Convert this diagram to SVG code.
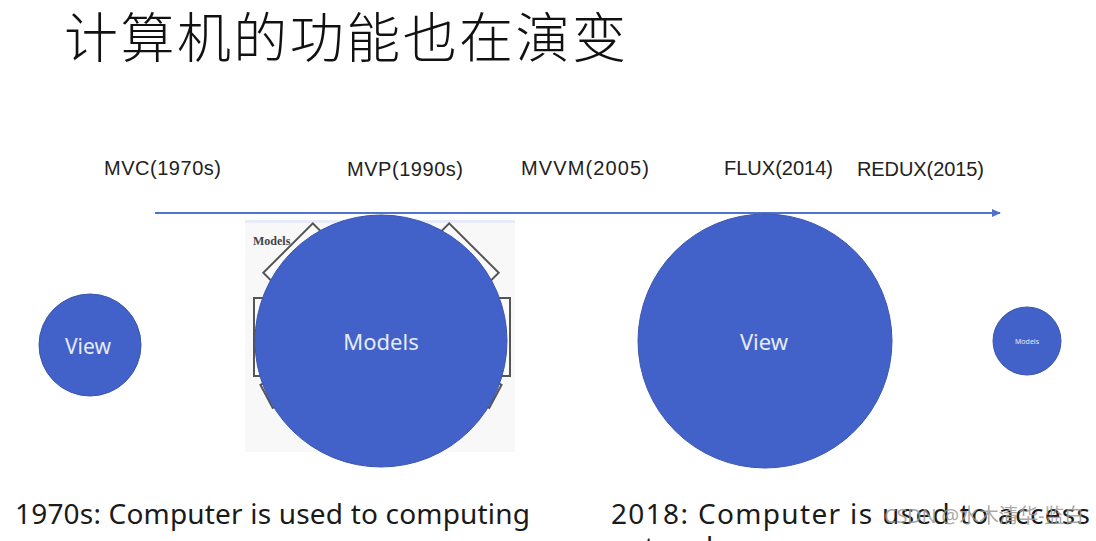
<svg xmlns="http://www.w3.org/2000/svg" width="1096" height="541" viewBox="0 0 1096 541">
<defs>
<style>
.lbl{font-family:"Liberation Sans","Noto Sans",sans-serif;font-size:20px;fill:#222}
.node{fill:#4262c9;stroke:#3a55ad;stroke-width:1}
.ntxt{font-family:"Noto Sans","Liberation Sans",sans-serif;fill:#e6ebf8;text-anchor:middle}
.big{font-family:"Noto Sans","Liberation Sans",sans-serif;font-size:28px;fill:#1a1a1a}
.box{fill:#fbfbfb;stroke:#555;stroke-width:2}
</style>
<marker id="ah" markerWidth="10" markerHeight="10" refX="8" refY="4" orient="auto" markerUnits="userSpaceOnUse">
<path d="M0,0 L9,4 L0,8 z" fill="#4f73cc"/>
</marker>
</defs>
<rect width="1096" height="541" fill="#ffffff"/>
<text x="64" y="58" font-family="'Noto Sans CJK SC',sans-serif" font-weight="300" font-size="54" fill="#111" textLength="562">计算机的功能也在演变</text>

<g id="labels">
<text class="lbl" x="104" y="175" textLength="117">MVC(1970s)</text>
<text class="lbl" x="347" y="176" textLength="116">MVP(1990s)</text>
<text class="lbl" x="521" y="175" textLength="128">MVVM(2005)</text>
<text class="lbl" x="724" y="175" textLength="109">FLUX(2014)</text>
<text class="lbl" x="857" y="176" textLength="127">REDUX(2015)</text>
</g>

<g id="connectors">
<line x1="155" y1="213" x2="1000" y2="213" stroke="#4f73cc" stroke-width="2" marker-end="url(#ah)"/>
</g>

<g id="picture">
<rect x="245" y="222" width="270" height="230" fill="#f8f8f8"/>
<rect x="245" y="220" width="270" height="3" fill="#e6edf8"/>
<text x="253" y="245" font-family="'Liberation Serif',serif" font-weight="bold" font-size="12" fill="#444">Models</text>
<rect class="box" x="258" y="246" width="70" height="14" transform="rotate(-45 293 253)"/>
<rect class="box" x="434" y="246" width="70" height="14" transform="rotate(45 469 253)"/>
<rect class="box" x="254" y="298" width="16" height="78"/>
<rect class="box" x="494" y="298" width="16" height="78"/>
<rect class="box" x="258" y="389" width="26" height="10" transform="rotate(62 271 394)"/>
<rect class="box" x="478" y="389" width="26" height="10" transform="rotate(-62 491 394)"/>
</g>

<g id="view1">
<circle class="node" cx="90" cy="345" r="51"/>
<text class="ntxt" x="88" y="354" font-size="21">View</text>
</g>
<g id="models1">
<circle class="node" cx="381" cy="341" r="126"/>
<text class="ntxt" x="381" y="350" font-size="22">Models</text>
</g>
<g id="view2">
<circle class="node" cx="765" cy="341" r="127"/>
<text class="ntxt" x="764" y="350" font-size="22">View</text>
</g>
<g id="models2">
<circle class="node" cx="1027" cy="341" r="34"/>
<text class="ntxt" x="1027" y="344" font-size="7">Models</text>
</g>

<text class="big" x="15" y="524" textLength="515">1970s: Computer is used to computing</text>
<text class="big" x="611" y="524" textLength="479">2018: Computer is used to access</text>
<text class="big" x="611" y="557" textLength="110">network</text>
<text x="884" y="523" font-family="'Noto Sans','Noto Sans CJK SC',sans-serif" font-size="20" fill="#9a9a9a" fill-opacity="0.85" textLength="200">CSDN @水木清华-监白</text>
</svg>
